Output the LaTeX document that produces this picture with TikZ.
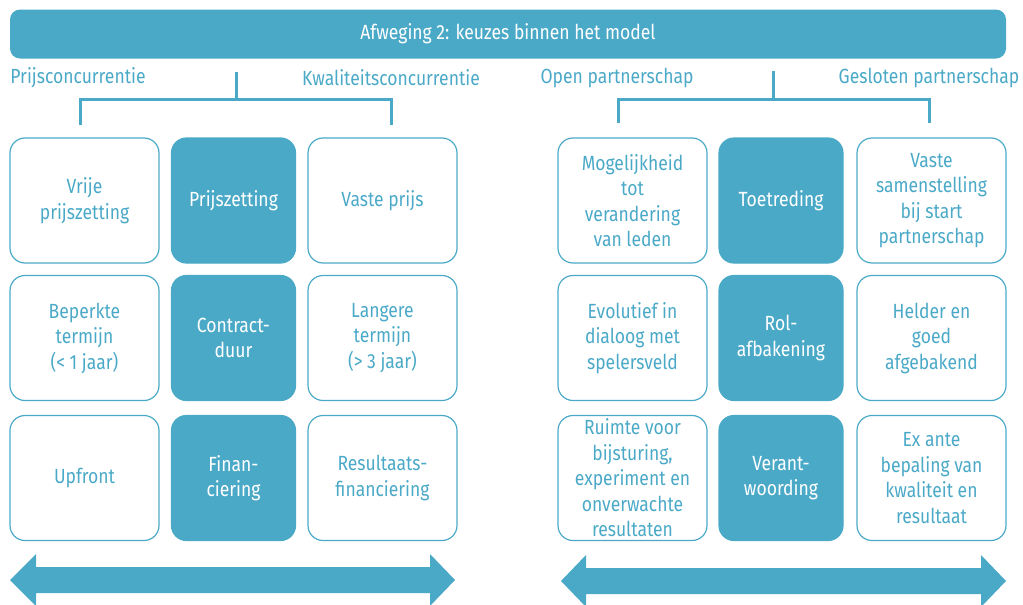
\documentclass[tikz,border=0pt]{standalone}
\usepackage{fontspec}
\setmainfont{Fira Sans}[FakeStretch=0.855]
\usetikzlibrary{positioning}
\definecolor{kblue}{HTML}{4BA9C8}
\tikzset{
  keuze/.style={draw=kblue, line width=1.2pt, rounded corners=15pt, text=kblue, align=center, minimum height=125pt, inner sep=0pt},
  wide/.style={keuze, minimum width=149pt},
  aspect/.style={keuze, fill=kblue, text=white, minimum width=124pt},
  kop/.style={text=kblue, inner sep=0pt},
  bracket/.style={kblue, line width=3pt}
}

\begin{document}
\begin{tikzpicture}[x=1pt,y=-1pt,font=\fontsize{20.5}{25.5}\selectfont]
\useasboundingbox (0,0) rectangle (1023,605);
\node[fill=kblue, rounded corners=10pt, minimum width=996pt, minimum height=49pt, text=white] (titel) at (508,34) {Afweging 2: keuzes binnen het model};

% links: concurrentie
\node[kop] (prijsc) at (78,78) {Prijsconcurrentie};
\node[kop] (kwal) at (391,78) {Kwaliteitsconcurrentie};
\coordinate (lstem) at (236,72);
\coordinate (lknik) at (236,99);
\coordinate (lvoet1) at (80,125);
\coordinate (lvoet2) at (391,125);
\draw[bracket] (lstem) -- (lknik);
\draw[bracket] (lvoet1) |- (lknik) -| (lvoet2);

\node[wide] (vrij) at (84.5,200.5) {Vrije\\prijszetting};
\node[aspect] (prijs) at (233.5,200.5) {Prijszetting};
\node[wide] (vast) at (382.5,200.5) {Vaste prijs};
\node[wide] (kort) at (84.5,338) {Beperkte\\termijn\\(< 1 jaar)};
\node[aspect] (duur) at (233.5,338) {Contract-\\duur};
\node[wide] (lang) at (382.5,338) {Langere\\termijn\\(> 3 jaar)};
\node[wide] (upfront) at (84.5,478) {Upfront};
\node[aspect] (fin) at (233.5,478) {Finan-\\ciering};
\node[wide] (result) at (382.5,478) {Resultaats-\\financiering};

% rechts: partnerschap
\node[kop] (open) at (617,78) {Open partnerschap};
\node[kop] (gesl) at (929,78) {Gesloten partnerschap};
\coordinate (rstem) at (773,71);
\coordinate (rknik) at (773,99);
\coordinate (rvoet1) at (618,123);
\coordinate (rvoet2) at (929,123);
\draw[bracket] (rstem) -- (rknik);
\draw[bracket] (rvoet1) |- (rknik) -| (rvoet2);

\node[wide] (mogelijk) at (632.5,200.5) {Mogelijkheid\\tot\\verandering\\van leden};
\node[aspect] (toetreding) at (781,200.5) {Toetreding};
\node[wide] (samen) at (931.5,200.5) {Vaste\\samenstelling\\bij start\\partnerschap};
\node[wide] (evol) at (632.5,338) {Evolutief in\\dialoog met\\spelersveld};
\node[aspect] (rol) at (781,338) {Rol-\\afbakening};
\node[wide] (helder) at (931.5,338) {Helder en\\goed\\afgebakend};
\node[wide] (ruimte) at (632.5,478) {Ruimte voor\\bijsturing,\\experiment en\\onverwachte\\resultaten};
\node[aspect] (verant) at (781,478) {Verant-\\woording};
\node[wide] (exante) at (931.5,478) {Ex ante\\bepaling van\\kwaliteit en\\resultaat};

% dubbele pijlen
\fill[kblue] (10,580) -- (36,554) -- (36,567) -- (430,567) -- (430,554) -- (455,580) -- (430,606) -- (430,593) -- (36,593) -- (36,606) -- cycle;
\fill[kblue] (561,581) -- (586,555) -- (586,568) -- (981,568) -- (981,555) -- (1006,581) -- (981,607) -- (981,594) -- (586,594) -- (586,607) -- cycle;
\end{tikzpicture}
\end{document}
